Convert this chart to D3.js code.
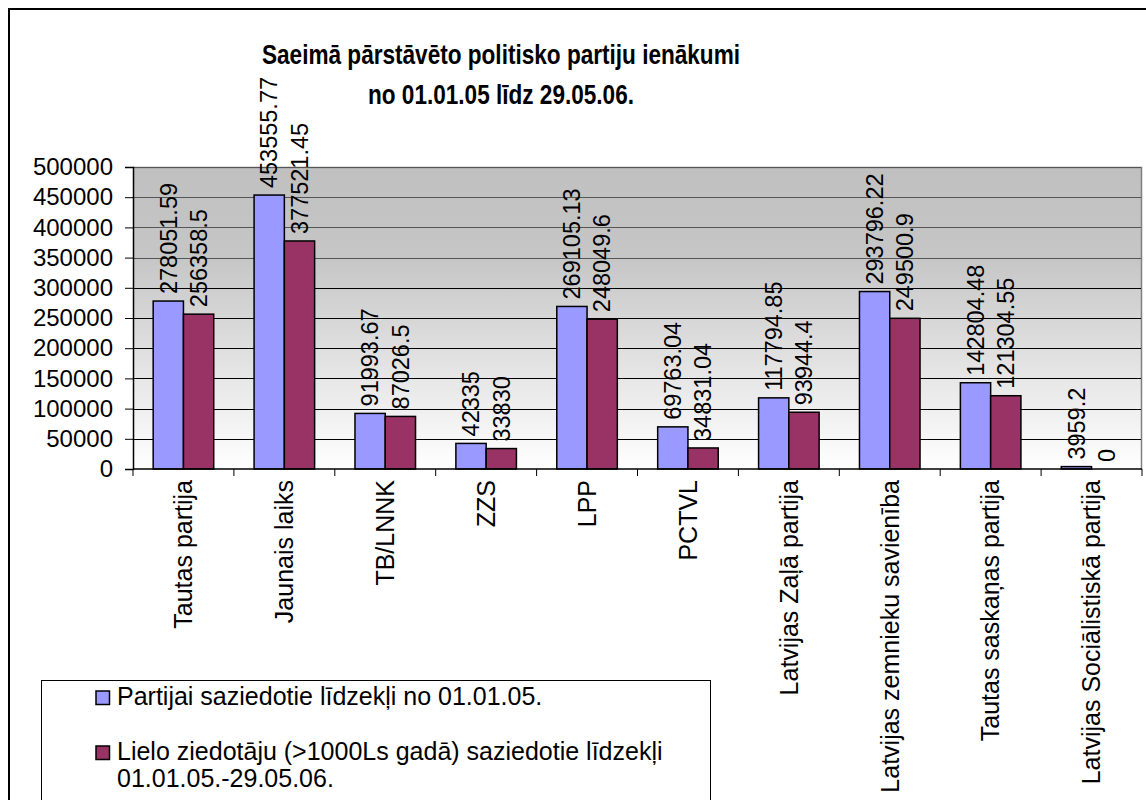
<!DOCTYPE html>
<html>
<head>
<meta charset="utf-8">
<script src="https://cdn.jsdelivr.net/npm/d3@7"></script>
<style>
  body { margin: 0; background: #fff; }
  text { font-family: "Liberation Sans", Arial, sans-serif; fill: #000; }
</style>
</head>
<body>
<div id="chart"></div>
<script>
const categories = ['Tautas partija', 'Jaunais laiks', 'TB/LNNK', 'ZZS', 'LPP', 'PCTVL',
  'Latvijas Zaļā partija', 'Latvijas zemnieku savienība', 'Tautas saskaņas partija',
  'Latvijas Sociālistiskā partija']
const donated = [278051.59, 453555.77, 91993.67, 42335, 269105.13, 69763.04, 117794.85, 293796.22, 142804.48, 3959.2]
const bigDonors = [256358.5, 377521.45, 87026.5, 33830, 248049.6, 34831.04, 93944.4, 249500.9, 121304.55, 0]
const seriesNames = ['Partijai saziedotie līdzekļi no 01.01.05.',
  'Lielo ziedotāju (>1000Ls gadā) saziedotie līdzekļi', '01.01.05.-29.05.06.']
const colors = ['#9999ff', '#993366']
const yTicks = [0, 50000, 100000, 150000, 200000, 250000, 300000, 350000, 400000, 450000, 500000]
const titleLines = ['Saeimā pārstāvēto politisko partiju ienākumi', 'no 01.01.05 līdz 29.05.06.']

const W = 1146, H = 800
const plot = { left: 133, right: 1142, top: 167, bottom: 469 }

const svg = d3.select('#chart').append('svg')
  .attr('width', W)
  .attr('height', H)

// outer chart frame (runs off the page on the right and bottom)
svg.append('rect')
  .attr('x', 9).attr('y', 9)
  .attr('width', W + 20).attr('height', H + 20)
  .attr('fill', '#fff').attr('stroke', '#000').attr('stroke-width', 2)

const grad = svg.append('defs').append('linearGradient')
  .attr('id', 'bg').attr('x1', 0).attr('y1', 0).attr('x2', 0).attr('y2', 1)
grad.append('stop').attr('offset', '0%').attr('stop-color', '#c0c0c0')
grad.append('stop').attr('offset', '30%').attr('stop-color', '#c6c6c6')
grad.append('stop').attr('offset', '100%').attr('stop-color', '#ffffff')

const x0 = d3.scaleBand()
  .domain(categories)
  .range([plot.left, plot.right])

const x1 = d3.scaleBand()
  .domain([0, 1])
  .range([x0.bandwidth() * 0.2, x0.bandwidth() * 0.8])

const y = d3.scaleLinear()
  .domain([0, 500000])
  .range([plot.bottom, plot.top])

// plot area
svg.append('rect')
  .attr('x', plot.left).attr('y', plot.top)
  .attr('width', plot.right - plot.left).attr('height', plot.bottom - plot.top)
  .attr('fill', 'url(#bg)')
svg.append('path')
  .attr('d', `M${plot.left},${plot.top + 0.5}H${plot.right - 0.5}V${plot.bottom}`)
  .attr('fill', 'none').attr('stroke', '#808080').attr('stroke-width', 1.5)

// gridlines
svg.append('g')
  .selectAll('line')
  .data(yTicks.slice(1))
  .join('line')
  .attr('x1', plot.left).attr('x2', plot.right - 1)
  .attr('y1', d => Math.round(y(d)) + 0.5).attr('y2', d => Math.round(y(d)) + 0.5)
  .attr('stroke', d => d > 300000 ? '#555' : '#000')
  .attr('stroke-width', 1)

// bars
const series = [donated, bigDonors]
const groups = svg.append('g')
  .selectAll('g')
  .data(categories)
  .join('g')
  .attr('transform', d => `translate(${x0(d)},0)`)

groups.selectAll('rect')
  .data((d, i) => series.map((s, k) => ({ k, v: s[i] })))
  .join('rect')
  .attr('x', d => x1(d.k))
  .attr('y', d => y(d.v))
  .attr('width', x1.bandwidth())
  .attr('height', d => y(0) - y(d.v))
  .attr('fill', d => colors[d.k])
  .attr('stroke', '#000')
  .attr('stroke-width', 1.5)

// value labels
groups.selectAll('text')
  .data((d, i) => series.map((s, k) => ({ k, v: s[i] })))
  .join('text')
  .attr('transform', d => `translate(${x1(d.k) + x1.bandwidth() / 2},${y(d.v) - 7}) rotate(-90)`)
  .attr('dy', '0.35em')
  .style('font-size', '23.5px')
  .text(d => String(d.v))

// y axis
const yAxis = svg.append('g')
  .attr('transform', `translate(${plot.left},0)`)
  .call(d3.axisLeft(y).tickValues(yTicks).tickSize(8).tickPadding(12).tickFormat(d3.format('d')))
yAxis.select('.domain').attr('stroke', '#000').attr('stroke-width', 1.5)
yAxis.selectAll('.tick line').attr('stroke', '#000')
yAxis.selectAll('.tick text').style('font-size', '24px').attr('font-family', null)

// x axis line + boundary ticks
svg.append('line')
  .attr('x1', plot.left).attr('x2', plot.right)
  .attr('y1', plot.bottom).attr('y2', plot.bottom)
  .attr('stroke', '#000').attr('stroke-width', 1.5)
svg.append('g')
  .selectAll('line')
  .data(categories.concat(['end']))
  .join('line')
  .attr('x1', d => d === 'end' ? plot.right : x0(d))
  .attr('x2', d => d === 'end' ? plot.right : x0(d))
  .attr('y1', plot.bottom).attr('y2', plot.bottom + 7)
  .attr('stroke', '#000')

svg.append('g')
  .selectAll('text')
  .data(categories)
  .join('text')
  .attr('transform', d => `translate(${x0(d) + x0.bandwidth() / 2},${plot.bottom + 11}) rotate(-90)`)
  .attr('text-anchor', 'end')
  .attr('dy', '0.35em')
  .style('font-size', '25px')
  .text(d => d)

// title (the original is a tall, narrow bold face)
const titleWidths = [478, 266]
svg.append('g')
  .selectAll('text')
  .data(titleLines)
  .join('text')
  .attr('x', (d, i) => 501 - titleWidths[i] / 2)
  .attr('y', (d, i) => i ? 104 : 63.5)
  .attr('textLength', (d, i) => titleWidths[i])
  .attr('lengthAdjust', 'spacingAndGlyphs')
  .style('font-size', '28px')
  .style('font-weight', 'bold')
  .text(d => d)

// legend
const legend = svg.append('g')
legend.append('rect')
  .attr('x', 41.5).attr('y', 680.5)
  .attr('width', 669).attr('height', 200)
  .attr('fill', '#fff').attr('stroke', '#000').attr('stroke-width', 1)

const legendRows = [
  { color: colors[0], lines: [seriesNames[0]], y: 705 },
  { color: colors[1], lines: [seriesNames[1], seriesNames[2]], y: 760 }
]
legendRows.forEach(r => {
  legend.append('rect')
    .attr('x', 96).attr('y', r.y - 14)
    .attr('width', 13.5).attr('height', 13.5)
    .attr('fill', r.color).attr('stroke', '#000').attr('stroke-width', 1.5)
  r.lines.forEach((t, j) => {
    legend.append('text')
      .attr('x', 117)
      .attr('y', r.y + j * 27)
      .style('font-size', '25px')
      .text(t)
  })
})
</script>
</body>
</html>
